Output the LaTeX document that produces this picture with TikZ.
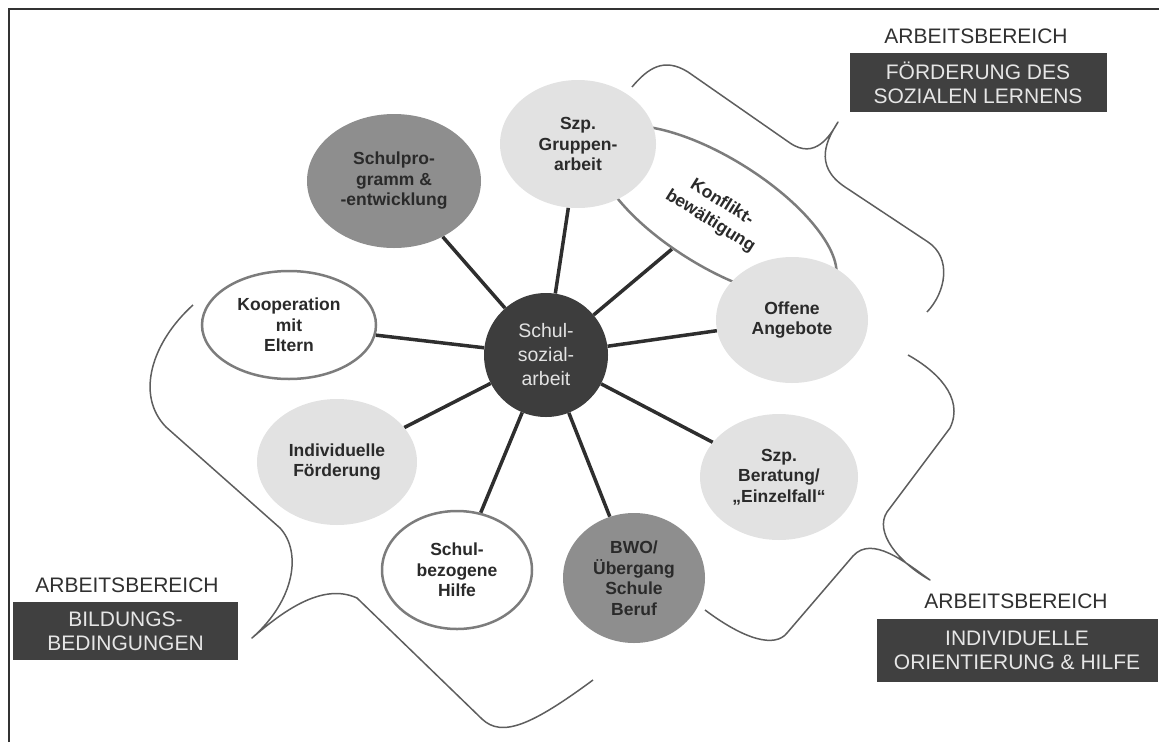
\documentclass[tikz,border=0pt]{standalone}
\usepackage{fontspec}
\setmainfont{Liberation Sans}
\usetikzlibrary{shapes.geometric,backgrounds}
\definecolor{lightfill}{HTML}{E2E2E2}
\definecolor{midfill}{HTML}{8E8E8E}
\definecolor{darkfill}{HTML}{3D3D3D}
\definecolor{linkcol}{HTML}{2E2E2E}
\definecolor{outlinecol}{HTML}{7C7C7C}
\definecolor{bracecol}{HTML}{5E5E5E}
\definecolor{boxfill}{HTML}{404040}
\definecolor{boxtext}{HTML}{E6E6E6}
\definecolor{nodetext}{HTML}{2A2A2A}
\definecolor{labeltext}{HTML}{303030}
\definecolor{framecol}{HTML}{333333}
\tikzset{
  bubble/.style={ellipse, inner sep=0pt, align=center, text=nodetext,
    font=\bfseries\fontsize{17.5}{20.5}\selectfont},
  lightbubble/.style={bubble, fill=lightfill},
  midbubble/.style={bubble, fill=midfill},
  ringbubble/.style={bubble, fill=white, draw=outlinecol, line width=2.5pt},
  hub/.style={circle, fill=darkfill, minimum size=124pt, inner sep=0pt, align=center,
    text=lightfill, font=\fontsize{19.5}{24}\selectfont},
  link/.style={draw=linkcol, line width=3.5pt},
  bracepath/.style={draw=bracecol, line width=1.5pt, line join=round},
  areatitle/.style={text=labeltext, font=\fontsize{21}{24}\selectfont, inner sep=0pt},
  areabox/.style={fill=boxfill, text=boxtext, align=center, inner sep=0pt,
    font=\fontsize{21}{24}\selectfont},
}
\begin{document}
\begin{tikzpicture}[x=1pt,y=-1pt]
\useasboundingbox (0,0) rectangle (1159,742);
% frame
\draw[framecol, line width=2pt] (9,742) -- (9,9) -- (1159,9);

% braces
\draw[bracepath] (632,87) .. controls (648,68) and (664,57) .. (688,72) -- (790,143)
  .. controls (815,160) and (830,136) .. (838,122)
  .. controls (828,138) and (812,165) .. (845,187) -- (928,242)
  .. controls (952,258) and (946,292) .. (927,312);
\draw[bracepath] (908,355) .. controls (935,370) and (965,397) .. (950,428) -- (887,512)
  .. controls (874,532) and (898,562) .. (930,580)
  .. controls (905,562) and (872,535) .. (853,556) -- (787,633)
  .. controls (775,648) and (745,640) .. (705,610);
\draw[bracepath] (193,305) .. controls (152,342) and (135,395) .. (166,427) -- (280,528)
  .. controls (302,552) and (295,600) .. (252,638)
  .. controls (282,612) and (322,582) .. (357,598) -- (482,719)
  .. controls (502,738) and (532,725) .. (593,680);

% central node and satellites
\node[hub] (hub) at (546,355) {Schul-\\sozial-\\arbeit};
\node[midbubble, minimum width=174pt, minimum height=134pt] (prog) at (394,181) {Schulpro-\\gramm \&\\-entwicklung};
\node[ringbubble, minimum width=276pt, minimum height=108pt, rotate=-32,
  font=\bfseries\fontsize{17.5}{22}\selectfont] (konf) at (716,212) {Konflikt-\\bewältigung};
\node[lightbubble, minimum width=156pt, minimum height=128pt] (grup) at (578,144) {Szp.\\Gruppen-\\arbeit};
\node[lightbubble, minimum width=152pt, minimum height=126pt] (offen) at (792,320) {Offene\\Angebote};
\node[lightbubble, minimum width=158pt, minimum height=126pt] (berat) at (779,477) {Szp.\\Beratung/\\„Einzelfall“};
\node[midbubble, minimum width=142pt, minimum height=130pt] (bwo) at (634,578) {BWO/\\Übergang\\Schule\\Beruf};
\node[ringbubble, minimum width=150pt, minimum height=118pt] (hilfe) at (457,570) {Schul-\\bezogene\\Hilfe};
\node[lightbubble, minimum width=160pt, minimum height=126pt] (indiv) at (337,462) {Individuelle\\Förderung};
\node[ringbubble, minimum width=174pt, minimum height=108pt] (koop) at (289,325) {Kooperation\\mit\\Eltern};

% connectors behind
\begin{scope}[on background layer]
\foreach \t in {prog,konf,grup,offen,berat,bwo,hilfe,indiv,koop}
  \draw[link] (hub) -- (\t);
\end{scope}

% area labels
\node[areatitle] (t1) at (976,36) {ARBEITSBEREICH};
\node[areabox, minimum width=257pt, minimum height=59pt] (b1) at (978,82.5) {FÖRDERUNG DES\\SOZIALEN LERNENS};
\node[areatitle] (t2) at (1016,601) {ARBEITSBEREICH};
\node[areabox, minimum width=281pt, minimum height=63pt] (b2) at (1017,650) {INDIVIDUELLE\\ORIENTIERUNG \& HILFE};
\node[areatitle] (t3) at (127,585) {ARBEITSBEREICH};
\node[areabox, minimum width=225pt, minimum height=58pt] (b3) at (125.5,631) {BILDUNGS-\\BEDINGUNGEN};
\end{tikzpicture}
\end{document}
